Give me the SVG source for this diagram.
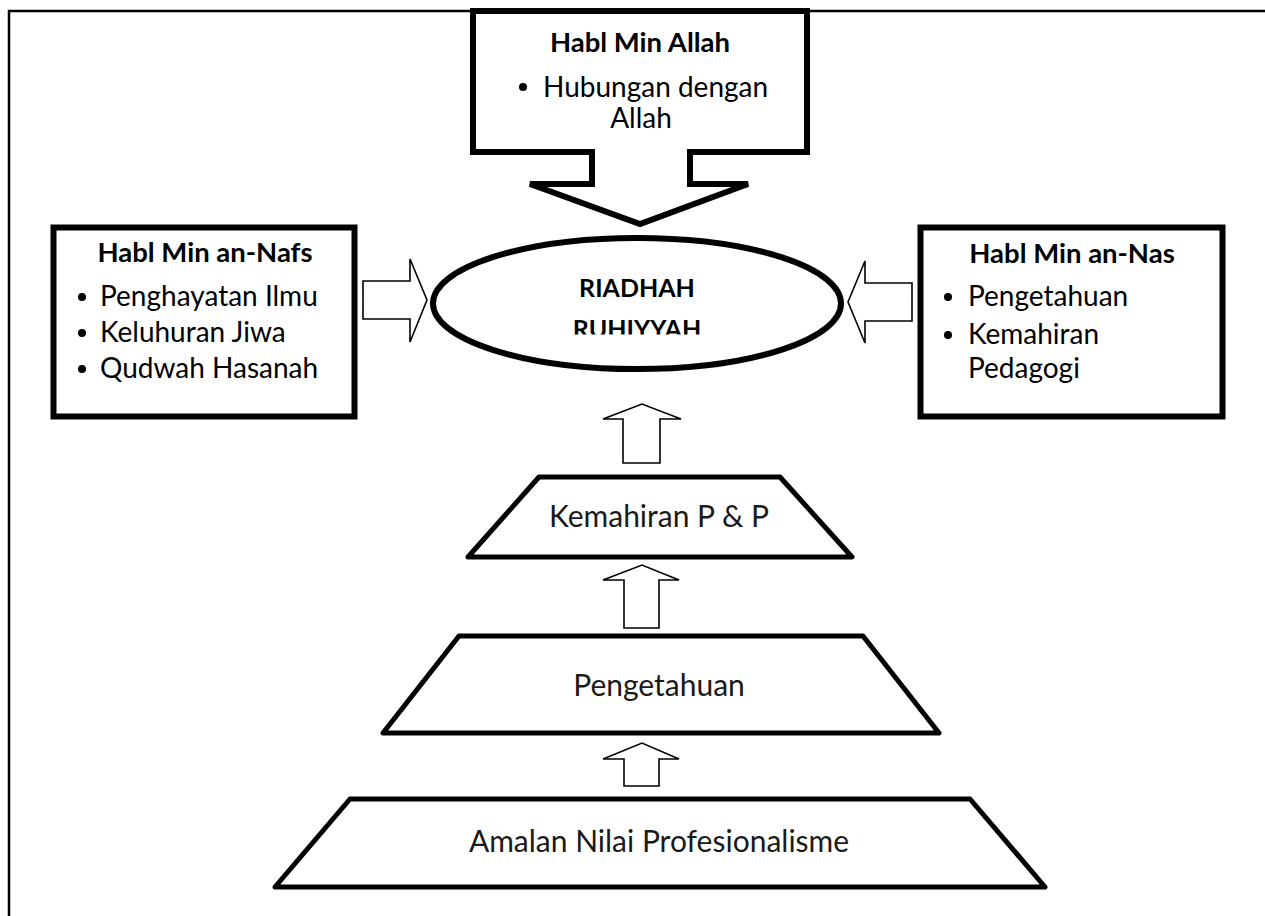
<svg xmlns="http://www.w3.org/2000/svg" width="1265" height="916" viewBox="0 0 1265 916">
<style>
.thick{fill:#fff;stroke:#000;stroke-width:6;stroke-linejoin:miter}
.trap{fill:#fff;stroke:#000;stroke-width:5;stroke-linejoin:round}
.arr{fill:#fff;stroke:#000;stroke-width:1.6;stroke-linejoin:miter}
text{font-family:Lato,"Open Sans","Liberation Sans",sans-serif;fill:#000}
.b{font-weight:bold;font-size:27.5px}
.c{font-weight:bold;font-size:25px}
.t{font-size:28px}
.p{font-size:30px;fill:#1a1a1a}
</style>
<defs>
<clipPath id="clipR"><rect x="440" y="250" width="400" height="84.5"/></clipPath>
</defs>
<g id="frame">
<path d="M9,916 V11 H1265" fill="none" stroke="#000" stroke-width="2.5"/>
</g>
<g id="connectors">
<path class="arr" d="M363,281 H410 V259 L427,300 L410,342 V319 H363 Z"/>
<path class="arr" d="M912,283 H865 V261 L848,302 L865,343 V321 H912 Z"/>
<path class="arr" d="M623,463 V419 H603 L642,404 L681,419 H660 V463 Z"/>
<path class="arr" d="M624,628 V580 H603 L642,565 L679,580 H659 V628 Z"/>
<path class="arr" d="M624,786 V759 H603 L642,743 L679,759 H659 V786 Z"/>
</g>
<g id="habl-min-allah">
<path class="thick" d="M473,11 H807 V152 H690 V184 H748 L640,224 L530,184 H592 V152 H473 Z"/>
<text class="b" x="640" y="52" text-anchor="middle" font-size="28.5">Habl Min Allah</text>
<circle cx="523" cy="87" r="4"/>
<text class="t" x="543" y="97">Hubungan dengan</text>
<text class="t" x="641" y="128" text-anchor="middle">Allah</text>
</g>
<g id="habl-min-an-nafs">
<rect class="thick" x="53.5" y="227.5" width="301" height="189" stroke-width="7"/>
<text class="b" x="205" y="262" text-anchor="middle">Habl Min an-Nafs</text>
<circle cx="82" cy="297" r="4"/>
<text class="t" x="100" y="306">Penghayatan Ilmu</text>
<circle cx="82" cy="333" r="4"/>
<text class="t" x="100" y="342">Keluhuran Jiwa</text>
<circle cx="82" cy="369" r="4"/>
<text class="t" x="100" y="378">Qudwah Hasanah</text>
</g>
<g id="habl-min-an-nas">
<rect class="thick" x="920.5" y="227.5" width="302" height="189" stroke-width="7"/>
<text class="b" x="1072" y="263" text-anchor="middle">Habl Min an-Nas</text>
<circle cx="948" cy="297" r="4"/>
<text class="t" x="968" y="306">Pengetahuan</text>
<circle cx="948" cy="335" r="4"/>
<text class="t" x="968" y="344">Kemahiran</text>
<text class="t" x="968" y="378">Pedagogi</text>
</g>
<g id="riadhah-ruhiyyah">
<ellipse class="thick" cx="637" cy="303.5" rx="204" ry="65.5"/>
<text class="c" x="637" y="297" text-anchor="middle">RIADHAH</text>
<text class="c" x="637" y="338" text-anchor="middle" clip-path="url(#clipR)">RUHIYYAH</text>
</g>
<g id="kemahiran-pp">
<path class="trap" d="M539,477 H780 L852,557 H468 Z"/>
<text class="p" x="659" y="527" text-anchor="middle">Kemahiran P &amp; P</text>
</g>
<g id="pengetahuan">
<path class="trap" d="M459,636 H863 L939,733 H383 Z"/>
<text class="p" x="659" y="696" text-anchor="middle">Pengetahuan</text>
</g>
<g id="amalan">
<path class="trap" d="M350,799 H970 L1045,887 H275 Z"/>
<text class="p" x="659" y="852" text-anchor="middle">Amalan Nilai Profesionalisme</text>
</g>
</svg>
